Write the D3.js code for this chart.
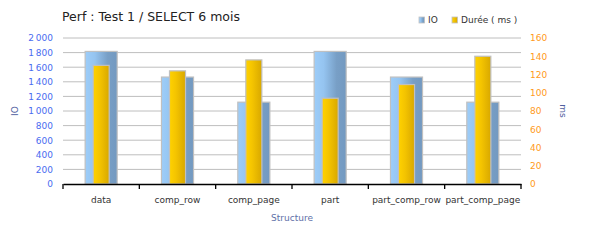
<!DOCTYPE html>
<html>
<head>
<meta charset="utf-8">
<script src="https://cdn.jsdelivr.net/npm/d3@7"></script>
<style>
  body { margin: 0; background: #fff; }
  text { font-family: "DejaVu Sans", Verdana, sans-serif; }
</style>
</head>
<body>
<svg width="600" height="250"></svg>
<script>
var categories = ["data", "comp_row", "comp_page", "part", "part_comp_row", "part_comp_page"];
var ioValues = [1816, 1465, 1121, 1816, 1465, 1121];
var dureeValues = [130, 124, 136, 94, 109, 140];
var ioTicks = [0, 200, 400, 600, 800, 1000, 1200, 1400, 1600, 1800, 2000];
var msTicks = [0, 20, 40, 60, 80, 100, 120, 140, 160];

var svg = d3.select("svg"),
    margin = { top: 38, right: 79, bottom: 66, left: 63 },
    width = +svg.attr("width") - margin.left - margin.right,
    height = +svg.attr("height") - margin.top - margin.bottom,
    g = svg.append("g").attr("transform", "translate(" + margin.left + "," + margin.top + ")");

var defs = svg.append("defs");
var gIO = defs.append("linearGradient").attr("id", "gradIO");
gIO.append("stop").attr("offset", "0%").attr("stop-color", "#9dcdf9");
gIO.append("stop").attr("offset", "30%").attr("stop-color", "#95c4f0");
gIO.append("stop").attr("offset", "70%").attr("stop-color", "#789fc6");
gIO.append("stop").attr("offset", "100%").attr("stop-color", "#7399c0");
var gD = defs.append("linearGradient").attr("id", "gradD");
gD.append("stop").attr("offset", "0%").attr("stop-color", "#ffd200");
gD.append("stop").attr("offset", "40%").attr("stop-color", "#f4c400");
gD.append("stop").attr("offset", "100%").attr("stop-color", "#d8a800");

var x = d3.scaleBand().domain(categories).range([0, width]);
var yIO = d3.scaleLinear().domain([0, 2000]).range([height, 0]);
var yMs = d3.scaleLinear().domain([0, 160]).range([height, 0]);

var fmt = function(d) { return d3.format(",")(d).replace(",", "\u202f"); };

// gridlines
g.append("g")
    .selectAll("line")
    .data(ioTicks.slice(1))
    .enter().append("line")
    .attr("x1", 0)
    .attr("x2", width)
    .attr("y1", function(d) { return yIO(d); })
    .attr("y2", function(d) { return yIO(d); })
    .attr("stroke", "#bebebe")
    .attr("stroke-width", 1);

var ioW = x.bandwidth() * 0.42,
    dW = x.bandwidth() * 0.21;

g.append("g")
    .selectAll("rect")
    .data(ioValues)
    .enter().append("rect")
    .attr("x", function(d, i) { return x(categories[i]) + x.bandwidth() / 2 - ioW / 2; })
    .attr("y", function(d) { return yIO(d); })
    .attr("width", ioW)
    .attr("height", function(d) { return height - yIO(d); })
    .attr("fill", "url(#gradIO)")
    .attr("stroke", "#c0c0c0")
    .attr("stroke-width", 1.2);

g.append("g")
    .selectAll("rect")
    .data(dureeValues)
    .enter().append("rect")
    .attr("x", function(d, i) { return x(categories[i]) + x.bandwidth() / 2 - dW / 2; })
    .attr("y", function(d) { return yMs(d); })
    .attr("width", dW)
    .attr("height", function(d) { return height - yMs(d); })
    .attr("fill", "url(#gradD)")
    .attr("stroke", "#c0c0c0")
    .attr("stroke-width", 1.2);

// bottom axis
var xAxis = g.append("g")
    .attr("transform", "translate(0," + height + ")")
    .call(d3.axisBottom(x).tickSize(0).tickPadding(13));
xAxis.select(".domain").attr("stroke", "#000").attr("stroke-width", 1.3);
xAxis.selectAll("text").attr("font-size", 9).attr("fill", "#333");
xAxis.append("g")
    .selectAll("line")
    .data(d3.range(categories.length + 1))
    .enter().append("line")
    .attr("x1", function(d) { return d * x.step(); })
    .attr("x2", function(d) { return d * x.step(); })
    .attr("y1", 0)
    .attr("y2", 5)
    .attr("stroke", "#000")
    .attr("stroke-width", 1.3);

// left axis
var yAxisL = g.append("g")
    .call(d3.axisLeft(yIO).tickValues(ioTicks).tickSize(0).tickPadding(10).tickFormat(fmt));
yAxisL.select(".domain").remove();
yAxisL.selectAll("text").attr("font-size", 9).attr("fill", "#4a6cf0");

// right axis
var yAxisR = g.append("g")
    .attr("transform", "translate(" + width + ",0)")
    .call(d3.axisRight(yMs).tickValues(msTicks).tickSize(0).tickPadding(9));
yAxisR.select(".domain").remove();
yAxisR.selectAll("text").attr("font-size", 9).attr("fill", "#ff9a1a");

// axis labels
g.append("text")
    .attr("transform", "translate(-45," + (height / 2) + ") rotate(-90)")
    .attr("text-anchor", "middle")
    .attr("font-size", 9)
    .attr("fill", "#5060a0")
    .text("IO");

g.append("text")
    .attr("transform", "translate(" + (width + 39) + "," + (height / 2) + ") rotate(90)")
    .attr("text-anchor", "middle")
    .attr("font-size", 9)
    .attr("fill", "#5060a0")
    .text("ms");

g.append("text")
    .attr("x", width / 2)
    .attr("y", height + 37)
    .attr("text-anchor", "middle")
    .attr("font-size", 9)
    .attr("fill", "#6070a8")
    .text("Structure");

// title
svg.append("text")
    .attr("x", 62)
    .attr("y", 21)
    .attr("font-size", 12.5)
    .attr("fill", "#222")
    .text("Perf : Test 1 / SELECT 6 mois");

// legend
var legendData = [
    { label: "IO", fill: "url(#gradIO)", x: 419 },
    { label: "Durée ( ms )", fill: "url(#gradD)", x: 452 }
];
var legend = svg.append("g")
    .selectAll("g")
    .data(legendData)
    .enter().append("g")
    .attr("transform", function(d) { return "translate(" + d.x + ",17)"; });
legend.append("rect")
    .attr("width", 5.5)
    .attr("height", 6)
    .attr("fill", function(d) { return d.fill; })
    .attr("stroke", "#c0c0c0")
    .attr("stroke-width", 0.8);
legend.append("text")
    .attr("x", 9)
    .attr("y", 3)
    .attr("dy", "0.35em")
    .attr("font-size", 9)
    .attr("fill", "#333")
    .text(function(d) { return d.label; });
</script>
</body>
</html>
